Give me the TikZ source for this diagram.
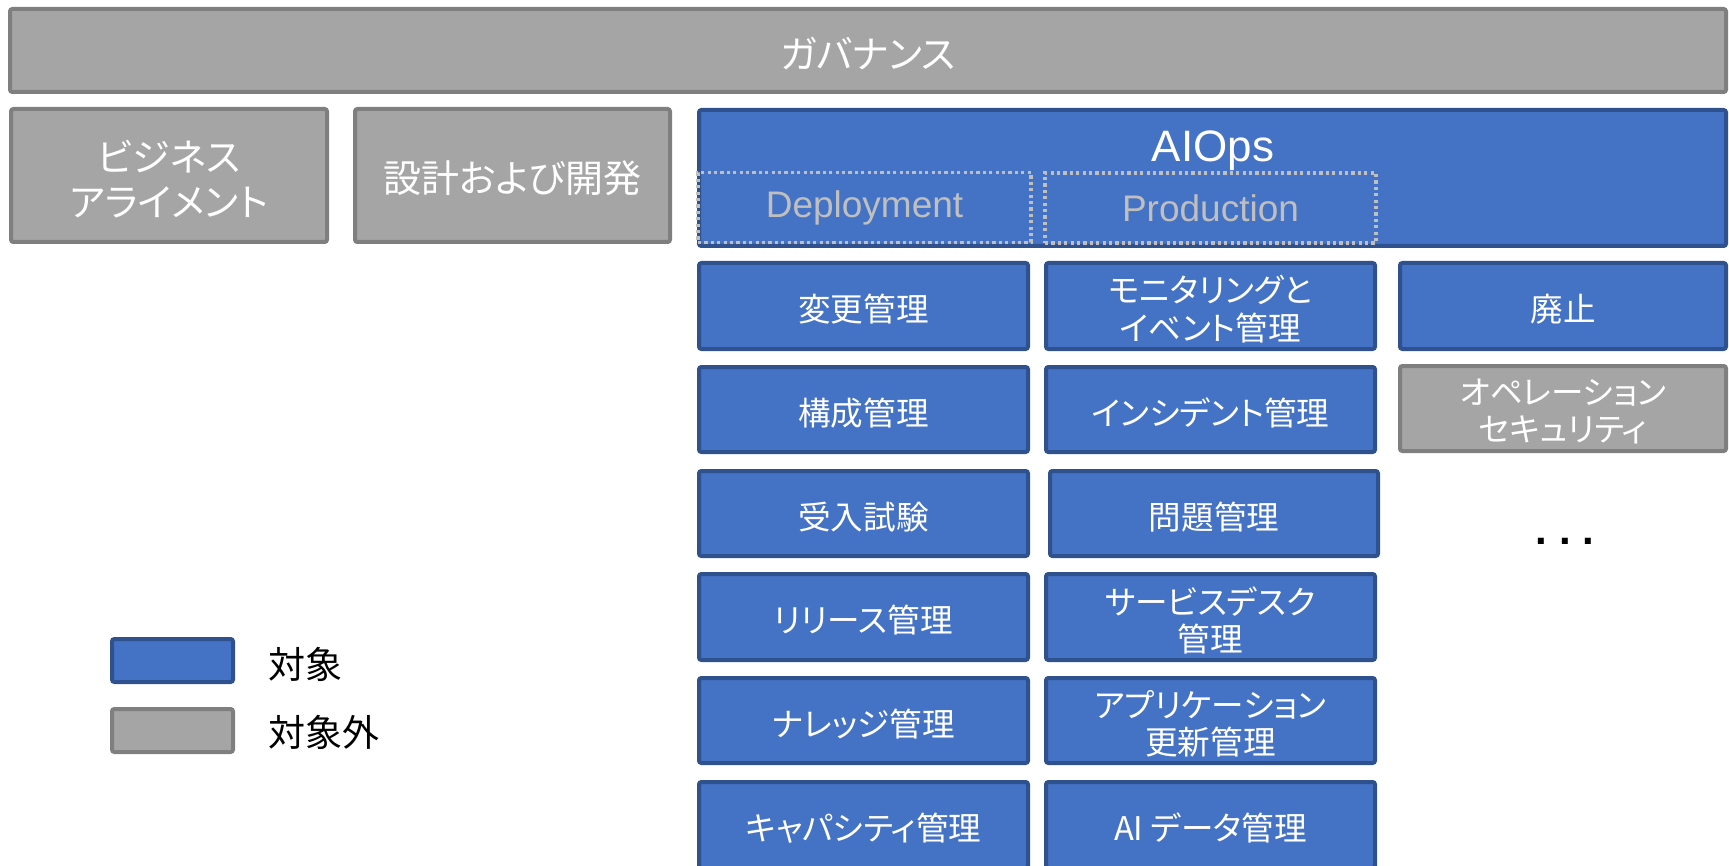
\documentclass[tikz,border=0pt]{standalone}
\usepackage{fontspec}
\setmainfont{Noto Sans CJK JP}[RawFeature={+palt}]
\newfontfamily\latfont{Liberation Sans}
\definecolor{bfill}{HTML}{4472C4}
\definecolor{bline}{HTML}{2F528F}
\definecolor{gfill}{HTML}{A5A5A5}
\definecolor{gline}{HTML}{7F7F7F}
\definecolor{dotc}{HTML}{BFBFBF}
\newcommand\drawbox[7]{\node[#2, minimum width={(#5-#3-4)*0.5pt}, minimum height={(#6-#4-4)*0.5pt}] (#1) at ({(#3+#5)/2},{(#4+#6)/2}) {};
  \node[#2, draw=none, fill=none, yshift=-1.6pt] (#1-t) at (#1.center) {#7};}
\tikzset{
  base/.style={rectangle, line width=2pt, rounded corners=1.2pt, inner sep=0pt, align=center, text=white},
  bluebox/.style={base, draw=bline, fill=bfill, font=\fontsize{16.3}{18.75}\selectfont},
  greybox/.style={base, draw=gline, fill=gfill, font=\fontsize{16.3}{18.75}\selectfont},
  bigtext/.style={font=\fontsize{19}{22.5}\selectfont},
  dotbox/.style={rectangle, draw=dotc, line width=1.8pt, dash pattern=on 1.6pt off 1.6pt, inner sep=0pt, text=dotc, font=\latfont\fontsize{18.5}{22}\selectfont},
}
\begin{document}
\begin{tikzpicture}[x=0.5pt,y=-0.5pt]
\useasboundingbox (0,0) rectangle (1729,866);
% top
\drawbox{gov}{greybox,bigtext}{8}{7}{1728}{94}{ガバナンス}
\drawbox{biz}{greybox,bigtext}{9}{107}{329}{244}{ビジネス\\アライメント}
\drawbox{dev}{greybox,bigtext}{353}{107}{672}{244}{設計および開発}
\drawbox{aiops}{bluebox}{697}{108}{1728}{248}{}
\node[text=white, font=\latfont\fontsize{22}{26}\selectfont] (aiopst) at (1213,151) {AIOps};
\node[dotbox, minimum width=166.5pt, minimum height=35pt] (dep) at (864.5,207.5) {Deployment};
\node[dotbox, minimum width=165.5pt, minimum height=35pt] (prod) at (1210.5,208) {Production};
% column 1
\drawbox{c1r1}{bluebox}{697}{261}{1030}{351}{変更管理}
\drawbox{c1r2}{bluebox}{697}{365}{1030}{454}{構成管理}
\drawbox{c1r3}{bluebox}{697}{469}{1030}{558}{受入試験}
\drawbox{c1r4}{bluebox}{697}{572}{1030}{662}{リリース管理}
\drawbox{c1r5}{bluebox}{697}{676}{1030}{765}{ナレッジ管理}
\drawbox{c1r6}{bluebox}{697}{780}{1030}{870}{キャパシティ管理}
% column 2
\drawbox{c2r1}{bluebox}{1044}{261}{1377}{351}{モニタリングと\\イベント管理}
\drawbox{c2r2}{bluebox}{1044}{365}{1377}{454}{インシデント管理}
\drawbox{c2r3}{bluebox}{1048}{469}{1380}{558}{問題管理}
\drawbox{c2r4}{bluebox}{1044}{572}{1377}{662}{サービスデスク\\管理}
\drawbox{c2r5}{bluebox}{1044}{676}{1377}{765}{アプリケーション\\更新管理}
\drawbox{c2r6}{bluebox}{1044}{780}{1377}{870}{AI データ管理}
% column 3
\drawbox{c3r1}{bluebox}{1398}{261}{1728}{351}{廃止}
\drawbox{c3r2}{greybox}{1398}{364}{1728}{453}{オペレーション\\セキュリティ}
\node[font=\latfont\bfseries\fontsize{21}{24}\selectfont] (more) at (1565,541) {.\hspace{6pt}.\hspace{6pt}.};
% legend
\drawbox{legb}{bluebox}{110}{637}{235}{684}{}
\drawbox{legg}{greybox}{110}{707}{235}{754}{}
\node[anchor=west, inner sep=0pt, font=\fontsize{18.5}{22}\selectfont] (legbt) at (268,664) {対象};
\node[anchor=west, inner sep=0pt, font=\fontsize{18.5}{22}\selectfont] (leggt) at (268,732) {対象外};
\end{tikzpicture}
\end{document}
